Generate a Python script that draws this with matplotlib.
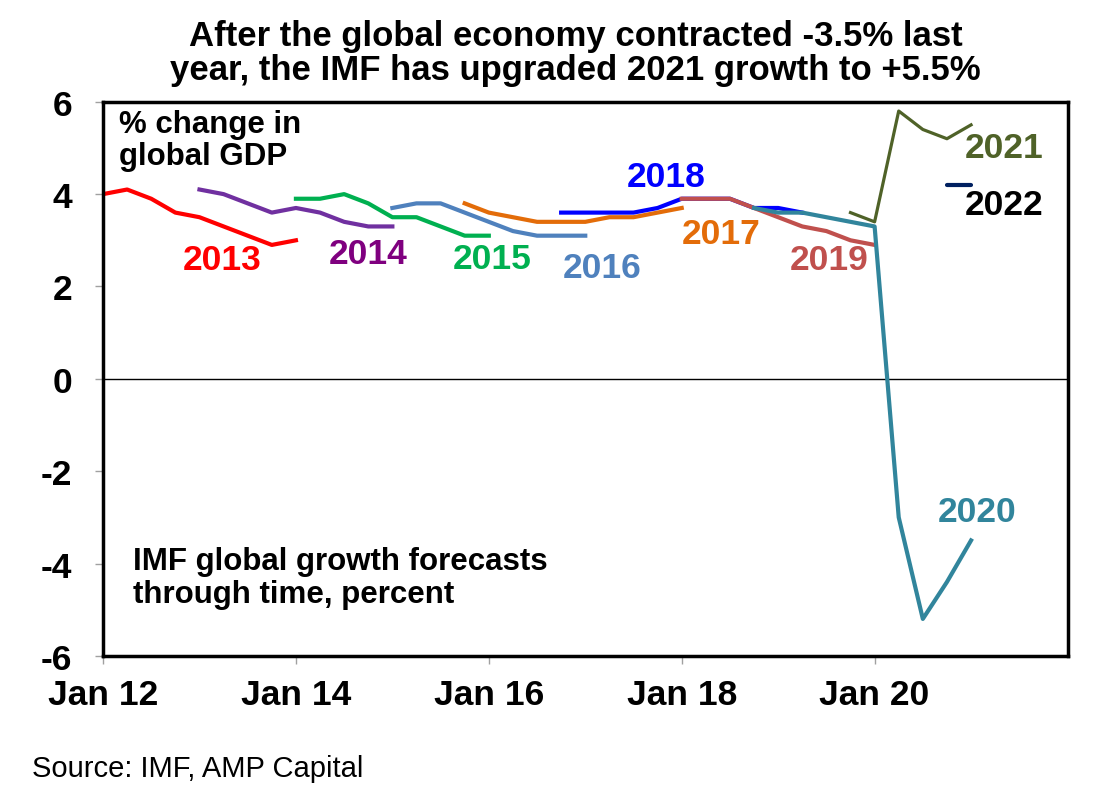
import matplotlib
matplotlib.use("Agg")
import matplotlib.pyplot as plt

plt.rcParams['font.family'] = ['Liberation Sans', 'DejaVu Sans']

# x positions: years since Jan 2012 (quarterly IMF WEO releases)
x_2013 = [0.0, 0.25, 0.5, 0.75, 1.0, 1.25, 1.5, 1.75, 2.0]
y_2013 = [4.0, 4.1, 3.9, 3.6, 3.5, 3.3, 3.1, 2.9, 3.0]

x_2014 = [1.0, 1.25, 1.5, 1.75, 2.0, 2.25, 2.5, 2.75, 3.0]
y_2014 = [4.1, 4.0, 3.8, 3.6, 3.7, 3.6, 3.4, 3.3, 3.3]

x_2015 = [2.0, 2.25, 2.5, 2.75, 3.0, 3.25, 3.5, 3.75, 4.0]
y_2015 = [3.9, 3.9, 4.0, 3.8, 3.5, 3.5, 3.3, 3.1, 3.1]

x_2016 = [3.0, 3.25, 3.5, 3.75, 4.0, 4.25, 4.5, 4.75, 5.0]
y_2016 = [3.7, 3.8, 3.8, 3.6, 3.4, 3.2, 3.1, 3.1, 3.1]

x_2017 = [3.75, 4.0, 4.25, 4.5, 4.75, 5.0, 5.25, 5.5, 5.75, 6.0]
y_2017 = [3.8, 3.6, 3.5, 3.4, 3.4, 3.4, 3.5, 3.5, 3.6, 3.7]

x_2018 = [4.75, 5.0, 5.25, 5.5, 5.75, 6.0, 6.25, 6.5, 6.75, 7.0, 7.25]
y_2018 = [3.6, 3.6, 3.6, 3.6, 3.7, 3.9, 3.9, 3.9, 3.7, 3.7, 3.6]

x_2019 = [6.0, 6.25, 6.5, 6.75, 7.0, 7.25, 7.5, 7.75, 8.0]
y_2019 = [3.9, 3.9, 3.9, 3.7, 3.5, 3.3, 3.2, 3.0, 2.9]

x_2020 = [6.75, 7.0, 7.25, 7.5, 7.75, 8.0, 8.25, 8.5, 8.75, 9.0]
y_2020 = [3.7, 3.6, 3.6, 3.5, 3.4, 3.3, -3.0, -5.2, -4.4, -3.5]

x_2021 = [7.75, 8.0, 8.25, 8.5, 8.75, 9.0]
y_2021 = [3.6, 3.4, 5.8, 5.4, 5.2, 5.5]

x_2022 = [8.75, 9.0]
y_2022 = [4.2, 4.2]

tick_pos = [0, 2, 4, 6, 8]
tick_labels = ['Jan 12', 'Jan 14', 'Jan 16', 'Jan 18', 'Jan 20']

fig = plt.figure(figsize=(10.96, 8.03), dpi=100)
ax = fig.add_axes([0.094, 0.182, 0.880, 0.690])

lw = 3.0
ax.axhline(0, color='black', lw=1.0, zorder=1)
ax.plot(x_2013, y_2013, color='#FF0000', lw=lw)
ax.plot(x_2014, y_2014, color='#7030A0', lw=lw)
ax.plot(x_2015, y_2015, color='#00B050', lw=lw)
ax.plot(x_2016, y_2016, color='#4F81BD', lw=lw)
ax.plot(x_2017, y_2017, color='#E36C09', lw=lw)
ax.plot(x_2018, y_2018, color='#0000FF', lw=lw)
ax.plot(x_2019, y_2019, color='#C0504D', lw=lw)
ax.plot(x_2020, y_2020, color='#31859C', lw=lw)
ax.plot(x_2021, y_2021, color='#4F6228', lw=2.3)
ax.plot(x_2022, y_2022, color='#002060', lw=lw, solid_capstyle='round')

lab = dict(fontsize=25.5, fontweight='bold', ha='center', va='center')
ax.text(1.23, 2.58, '2013', color='#FF0000', **lab)
ax.text(2.75, 2.71, '2014', color='#7F007F', **lab)
ax.text(4.03, 2.60, '2015', color='#00B050', **lab)
ax.text(5.18, 2.42, '2016', color='#4F81BD', **lab)
ax.text(6.41, 3.14, '2017', color='#E36C09', **lab)
ax.text(5.84, 4.39, '2018', color='#0000FF', **lab)
ax.text(7.53, 2.58, '2019', color='#C0504D', **lab)
ax.text(9.06, -2.88, '2020', color='#31859C', **lab)
ax.text(9.34, 5.00, '2021', color='#4F6228', **lab)
ax.text(9.34, 3.78, '2022', color='black', **lab)

ax.text(0.17, 5.85, '% change in\nglobal GDP', fontsize=22.5, fontweight='bold',
        ha='left', va='top', linespacing=1.1)
ax.text(0.31, -4.3, 'IMF global growth forecasts\nthrough time, percent',
        fontsize=22.5, fontweight='bold', ha='left', va='center', linespacing=1.1)

ax.set_xlim(0, 10)
ax.set_ylim(-6, 6)
ax.set_yticks([-6, -4, -2, 0, 2, 4, 6])
ax.set_yticklabels(['-6', '-4', '-2', '0', '2', '4', '6'])
ax.set_xticks(tick_pos)
ax.set_xticklabels(tick_labels)
ax.tick_params(axis='both', direction='out', color='#A0A0A0', length=6, width=1,
               labelsize=25.5)
ax.tick_params(axis='x', pad=10)
ax.tick_params(axis='y', pad=16)
for lbl in ax.get_xticklabels() + ax.get_yticklabels():
    lbl.set_fontweight('bold')
for s in ax.spines.values():
    s.set_linewidth(2.5)
    s.set_color('black')

fig.text(0.525, 0.975, 'After the global economy contracted -3.5% last\n'
         'year, the IMF has upgraded 2021 growth to +5.5%',
         fontsize=25, fontweight='bold', ha='center', va='top', linespacing=1.05)
fig.text(0.029, 0.042, 'Source: IMF, AMP Capital', fontsize=21, ha='left', va='center')

fig.savefig('out.png', dpi=100)
